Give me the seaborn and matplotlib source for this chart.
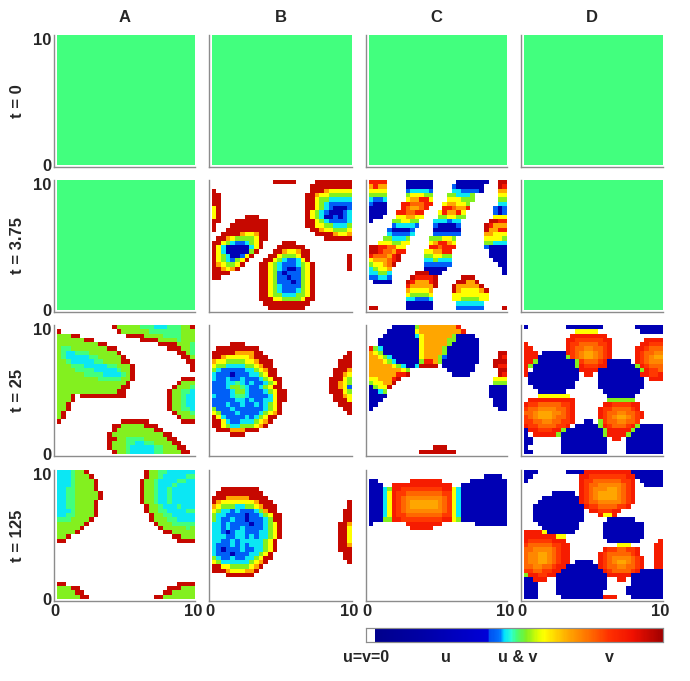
import matplotlib
matplotlib.use("Agg")
import matplotlib.pyplot as plt
from matplotlib.colors import LinearSegmentedColormap
import numpy as np
import seaborn as sns

sns.set_style("white")
plt.rcParams['font.family'] = ['Liberation Sans', 'DejaVu Sans']
plt.rcParams['font.weight'] = 'bold'

COLUMNS = ["A", "B", "C", "D"]
ROW_LABELS = ["t = 0", "t = 3.75", "t = 25", "t = 125"]
LEGEND_LABELS = ["u=v=0", "u", "u & v", "v"]

# state level per cell on a 30x30 grid; "|" = empty run up to the right-hand part
LEVELS = {'.': 0.0, 'B': .25, 'b': .43, 'c': .47, 'm': .505, 'g': .54,
          'y': .60, 'o': .68, 'f': .72, 'e': .76, 'q': .81, 'r': .87, 'd': .95}

UNIFORM = ["m" * 30] * 30

B2 = [
".............ddddd....dddddddd",
".....................ddddddddd",
"d....................dddoyyyyy",
"dd..................ddoyyggggg",
"dd..................ddyggccccc",
"dd..................ddygcbbbbb",
"yd..................ddygcbBBBb",
"yd..................dygcbBBBbc",
"yd.....ddd..........dygcBBbBbc",
"dd...ddddddd........ddygcbbbbc",
"d...dddddddd........ddyyggcccg",
"d..ddddddddd.........ddoyygggy",
"..ddddoyyodd..........ddddoyyo",
".ddoyggggydd............dddddd",
"ddygcbbcgyd....ddd............",
"dycBBBBBcyd...dddddd..........",
"dycBBBBBgd...ddoyyodd.........",
"dygcBBbyd...ddygggydd........d",
"dygcbgyd...ddygcbbcyd........d",
"doyggyd...ddygcbbbcgyd.......d",
"ddoyod....ddygcbBBbgyd.......d",
"dddd......ddygbBbbbgyd........",
"dd........ddygbbBbbgyd........",
"..........ddygbbbBbgyd........",
"..........ddygcbbbbgyd........",
"..........ddygcbbbcgyd........",
"..........ddyggcccggyd........",
"..........dddyyggggydd........",
"...........dddddddddd.........",
"............dddddddd..........",
]

C2 = [
"rrrr....BBBBBB.....BBBBBBB..dd",
"oroo....BBBBBB....bBBBBBB...dr",
"yyyy....bccccb....ccbbbbB...oo",
"gggg....gyyygg...ggcccg.....yy",
"cbbc....yoorry...yyyggg.....gg",
"bBBB...rreeerr..yooyyg......cc",
"BBBB...reooer...rreoor.....bBb",
"BBBB..rreerr...yroory......bBb",
"BBB...yyooyy...ggyygg......yyy",
"B....ggyygg...cccbcc......ddrr",
".....bccccb...bBBBBb.....drooo",
"....bBBBBb....BBBBBB.....doorr",
"....cbbbbc....bbbbbb.....ooyyy",
"...ggcccg....gggyyg......yyyyg",
"..yyyggyy....yorroy......ggccc",
"ddrreeyy.....rrerrr......bBBBB",
"ddreeorr....yyoorr........BBBB",
"reeeord.....ggyygg........BBBB",
"yoooerd.....ccgccc.........BBB",
"gyyoed......bbbbbb..........BB",
"cgyyo.......BBBBB............B",
"ccggc.....dddBBB.............B",
"bbccb....drrrrd.....ddd.......",
".BBBB...drooord....ddood......",
"........roooood...doooood.....",
"........oyyyyo....doyyyyod....",
"........yggggy....yyyyyyyy....",
"........ccbbbc....yyggggyy....",
"........BBBBBB.....cccccc.....",
"dd......BBBBBB.....bbbbbb....d",
]

A3 = [
"............dgggggmmmcccmmmggd",
"d............dggggggmmmmmmmggg",
"gggdd..........ddddggggmmmmggg",
"ggggggdd..........ddddggggmggg",
"gggggggggdd...........ddddgggm",
"gmmggggggggdd...........dddggm",
"gmccmmmggggggd............ddgm",
"gmcccccmmgggggd............ddg",
"ggmcccccmmggggdd............dd",
"gggmmmcccccmmgggd............d",
"ggggmmmmcccccmggd............d",
"ggggggmmmmccccmgd.............",
"gggggggggmmmmmggd..........ddd",
"gggggggggggggggd..........dggg",
"ggggggggggggggdd.........dgggm",
"gggggggggggggdd.........dggmmc",
"gggd.dddddddddd.........dggmcc",
"gggd|dggmcc",
"ggd|dggmcc",
"ggd|dggmmc",
"gd|dgggm",
"gd|dggg",
"d.............dddddd.......ddd",
"............ddgggggddd........",
"............dggggggggdd.......",
"...........dgggggggggggdd.....",
"...........ddggmmmmgggggdd....",
"...........dgggmmccmmggggdd...",
"...........dgggmcccccmmgggdd..",
"............dggmcccccmmggggdd.",
]

B3 = [
"", "", "", "",
"....ddd",
".ddddddddd",
"dddddoooodd|d",
"ddoyyyyyoddd|dd",
"oyyggggyyoddd|ddd",
"yggccccggyodd|ddd",
"gcbbbbbccgyodd|dddo",
"cbbbBbbbccgydd|ddoy",
"cbbcbbcbbbcgydd|dddyg",
"bbbccmcbcbbcgyd|ddoyg",
"bbbcggmcbbcgydd|ddoyb",
"bbbbcggcbbbcgydd|dddyg",
"cbbbcmmcbbbbcydd|ddoy",
"bbbbbccbcbbccydd|dddy",
"bbbcbbcbbcbcgyd|ddd",
"gbbbcbbbbbbcgyd|dd",
"ygbbbcbbbbcgyod|d",
"dycbbbbcbcgydd",
"ddycbbcccgyod",
"ddygccgggyod",
".dddoooddd",
"....ddd",
"", "", "", "",
]

C3 = [
".....BBBBBgoooooooor",
"....BBBBBByooooooooor",
"...BBBBBBBcyoooooogBBBB",
"..BBBBBBBBByoooooggBBBBB",
"..BBBBBBBBByooooogBBBBBB",
"rgcBBBBBBBByoooogBBBBBBB",
"oygBBBBBBBByoooogBBBBBBB|dd",
"ooygcBBBBBByooogbBBBBBBB|dr",
"oooygcBBBBBgrrogBBBBBBBB|ddd",
"oooooygcBBcdddd.BBBBBBB|drr",
"oooooooyg........BBBBBB|dd",
"oooooorrd.........BBBB|dr",
"yyooord|yyy",
"gyyood|ggg",
"Bgyyd|BBBB",
"BBcg|BBBB",
"BBBB|BBBB",
"BBB|BBB",
"BB|BBB",
"B|BB",
"", "", "", "", "", "", "", "",
"..............ddd",
"...........dddddddd",
]

D3 = [
"B........BBBBBBBB.......BBBBBB",
"...........yyyyy.........BBBBB",
"..........rrrrrrrr............",
".........rrqqqqqqrr.......rrrr",
"r........rqqeeeeqqr......rrqqq",
"rr.......rqeeffeeqr.....rrqeee",
"rrr.BBBBBrqefoofeqr.....rqeeff",
"rrrBBBBBBgqefoofeqr.....rqefoo",
"rrgBBBBBBBBgqeeeqrBBBBB.rqefff",
"rgBBBBBBBBBgrqqqrrBBBBBBgrqeee",
"r.BBBBBBBBBBrrrrBBBBBBBBBgrqqe",
"rBBBBBBBBBBB.rr.BBBBBBBBBrrqqr",
".BBBBBBBBBBB....BBBBBBBBBB.rrr",
".BBBBBBBBBB.....BBBBBBBBBB....",
"..BBBBBBBBB.....BBBBBBBBBB....",
"...BBBBBB........BBBBBBBB.....",
"...yyyyyyy........BBBBBB......",
".rrrrrrrrrr.......gggggg......",
"rqqeeeeeqqr......rrqqqqrr.....",
"qeeffffeeqr.....rqqeeeeqr.....",
"eefoooffeqr.....rqeeffeeqr....",
"qefooofeeqr.....rqefoofeqr....",
"qqeeffeeqqr..BB.gqeeffeeq.....",
"rqqeeeeqqr.BBBBBgrqeeeqrgBBBBB",
"BrrqqqrrgBBBBBBBBgrrrrrgBBBBBB",
"B.rrrrrgBBBBBBBBBgrrrrgBBBBBBB",
"BB......BBBBBBBBBB.rr.BBBBBBBB",
"BB......BBBBBBBBBB....BBBBBBBB",
"B.......BBBBBBBBBB....BBBBBBBB",
"BB......BBBBBBBBBB....BBBBBBBB",
]

A4 = [
"cccmggd|dggmmcccccc",
"cccmgggd|dggmcccccmm",
"cccmggggd|dggmccccmmcc",
"cccmggggd|dggmcccmcccc",
"ccmmggggd|dggmccmccccc",
"ccmmgggggd|dggmccmccccc",
"ccmmgggggd|dggmccmccccc",
"ccmmggggd|dggmccmccccc",
"ccmmggggd|dggmcccmccc",
"cccmggggd|dggmmccccmm",
"ccmmggggd|dggmmccccc",
"mmmggggd|dgggmmcccc",
"ggggggd|dgggmmmmm",
"gggggd|dgggggmg",
"ggggd|ddggggg",
"ggd|ddggg",
"dd|dddd",
"", "", "", "", "", "", "", "", "",
"dd|dddd",
"gggdd|dddggg",
"ggggdd|ddggggg",
"gggggdd|ddggggggg",
]

B4 = [
"", "", "", "",
"..dddddddd",
".dddddddddd",
"dddooooodddd",
"doyyyyyyyoddd|d",
"oygggccggyoddd|d",
"ygccbcbbbcgodd|dd",
"gccbbbbBbbcgydd|dd",
"gcbbcbbBbbbcgdd|dd",
"ccbcbbbbBbbcgyd|ddo",
"ccbcbbcbbbbcgyd|ddy",
"ccbBbccbbbccgyd|ddy",
"cccbbccbcbccgyd|ddy",
"ccbbcbcccccgyd|ddy",
"cbbbcbcbcccgyd|ddo",
"cbBbbbcbbccgyd|ddd",
"cbbbBbbbccgyd|dd",
"gcbbcbbccgydd|dd",
"ygccccccgyod|d",
"ddyyggggyod",
"dddoyyyood",
"...dddddd",
"", "", "", "", "",
]

C4 = [
"",
".........................BBBB.",
"BB.......rrrrrrr......BBBBBBBB",
"BBB..rrrrrrrrrrrrr..BBBBBBBBBB",
"BBBcgrrqqqqqqqqqrrycBBBBBBBBBB",
"BBBcyrqqeeeeeeeeqqycBBBBBBBBBB",
"BBBcyrqeffffffffeqycBBBBBBBBBB",
"BBBcyrqefoooooofeqycBBBBBBBBBB",
"BBBcyrqefoooooofeqycBBBBBBBBBB",
"BBBcyrqeffffffffeqycBBBBBBBBBB",
"BBBcyrqqeeeeeeeeqqycBBBBBBBBBB",
"BBBggrrqqqqqqqqqrrygBBBBBBBBBB",
"B.......rrrrrrrr.......BBBBBBB",
".........rrrrr................",
"", "", "", "", "", "", "", "", "", "", "", "", "", "", "", "",
]

D4 = [
"BBB......BBBBrrrrrrrrrrBBBBBBB",
"BB..........rrqqqqqqqqrrBBBBBB",
"B...........rqqeeeeeeqqr.BBBBB",
"............rqeefffffeqr..BBBB",
"............rqefffoofeqr......",
"......BBBBB.rqefoooofeqr......",
"....BBBBBBBBrqefoooofeqr......",
"...BBBBBBBBBrqeefffffeqr......",
"..BBBBBBBBBBBrqqeeeeqqr.......",
"..BBBBBBBBBBB.rrqqqrr.........",
"..BBBBBBBBBBB...ryyr..........",
"..BBBBBBBBBBB.....BBBBBB......",
"...BBBBBBBBB.....BBBBBBBBB....",
"....BBBBBBBB.....BBBBBBBBB....",
"rrrryBBBBBB......BBBBBBBBB....",
"rrrrrrryy........BBBBBBBBB....",
"rqqqqqrrr.........BBBBBBB....r",
"qeeeeeqqrr..........yyy.....rr",
"eeffffeqrr.......rqqeeqqr...rr",
"effoofeqrr......rqeeeeeqr...rr",
"effoofeqrr......rqeffffeqr..rr",
"effoofeqrr.BBBB.rqefoofeqr..rr",
"eeffeeqrrBBBBBBBrqeeffeeqr..rr",
"qqeeqqrrBBBBBBBBBrqeeeeqrBBBBB",
"grrqqrrBBBBBBBBBBBrrrrrBBBBBBB",
"BBrrr..BBBBBBBBBBB..rr.BBBBBBB",
"BBB....BBBBBBBBBBB.....BBBBBBB",
"BBB....BBBBBBBBBBB....BBBBBBBB",
"BBB....BBBBBBBBBB.....BBBBBBBB",
"BBB.....BBBBBBBBBrrr...BBBBBBB",
]

PANELS = [
    [UNIFORM, UNIFORM, UNIFORM, UNIFORM],
    [UNIFORM, B2, C2, UNIFORM],
    [A3, B3, C3, D3],
    [A4, B4, C4, D4],
]


def decode(rows, n=30):
    out = []
    for row in rows:
        if '|' in row:
            left, right = row.split('|')
            row = left + '.' * (n - len(left) - len(right)) + right
        row = row[:n].ljust(n, '.')
        out.append([LEVELS[ch] for ch in row])
    return np.array(out)


stops = [(0.0, '#ffffff'), (0.03, '#ffffff'), (0.03, '#00008c'), (0.2, '#0000a8'),
         (0.41, '#0000d8'), (0.415, '#0050f0'), (0.45, '#0070ff'), (0.465, '#00e0ff'),
         (0.49, '#30ffd0'), (0.505, '#40ff80'), (0.54, '#80f020'), (0.58, '#e0ff00'),
         (0.60, '#ffff00'), (0.68, '#ffa800'), (0.75, '#ff7000'), (0.82, '#ff3000'),
         (0.90, '#f01000'), (1.0, '#a00000')]
cmap = LinearSegmentedColormap.from_list('state', stops, N=256)

W, H = 690, 681
fig = plt.figure(figsize=(W / 100, H / 100), dpi=100)


def px_axes(x0, y0, x1, y1):
    return fig.add_axes([x0 / W, 1 - y1 / H, (x1 - x0) / W, (y1 - y0) / H])


col_edges = [(54, 195), (209, 352), (366, 507), (521, 663)]
row_edges = [(35, 167), (180, 312), (325, 456), (470, 601)]
GREY = '#8c8c8c'
cax = px_axes(366, 628, 663, 642)

for r, (y0, y1) in enumerate(row_edges):
    for c, (x0, x1) in enumerate(col_edges):
        ax = px_axes(x0, y0, x1, y1)
        first = (r == 0 and c == 0)
        sns.heatmap(decode(PANELS[r][c]), ax=ax, cmap=cmap, vmin=0, vmax=1,
                    cbar=first, cbar_ax=cax if first else None,
                    cbar_kws={'orientation': 'horizontal'} if first else None,
                    xticklabels=False, yticklabels=False)
        ax.set_xlim(-0.6, 30)
        ax.set_ylim(30.5, 0)
        for side in ('top', 'right'):
            ax.spines[side].set_visible(False)
        for side in ('left', 'bottom'):
            ax.spines[side].set_visible(True)
            ax.spines[side].set_color(GREY)
            ax.spines[side].set_linewidth(1.0)
        ax.tick_params(length=0, pad=2, labelsize=12)
        if r == 3:
            ax.set_xticks([-0.5, 29.5])
            ax.set_xticklabels(['0', '10'], fontweight='bold')
        else:
            ax.set_xticks([])
        if c == 0:
            ax.set_yticks([30, 1])
            ax.set_yticklabels(['0', '10'], fontweight='bold', rotation=0)
        else:
            ax.set_yticks([])
        if r == 0:
            fig.text((x0 + x1) / 2 / W, 1 - 18 / H, COLUMNS[c], ha='center', va='center',
                     fontsize=12, fontweight='bold')
    fig.text(18 / W, 1 - (y0 + y1) / 2 / H, ROW_LABELS[r], rotation=90, ha='center', va='center',
             fontsize=12, fontweight='bold')

cax.set_xticks([])
cax.set_yticks([])
for spine in cax.spines.values():
    spine.set_visible(True)
    spine.set_color(GREY)
    spine.set_linewidth(0.8)

for label, x in zip(LEGEND_LABELS, [366, 446, 518, 609]):
    fig.text(x / W, 1 - 658 / H, label, ha='center', va='center', fontsize=11.5, fontweight='bold')

fig.savefig('out.png', dpi=100, facecolor='white')
